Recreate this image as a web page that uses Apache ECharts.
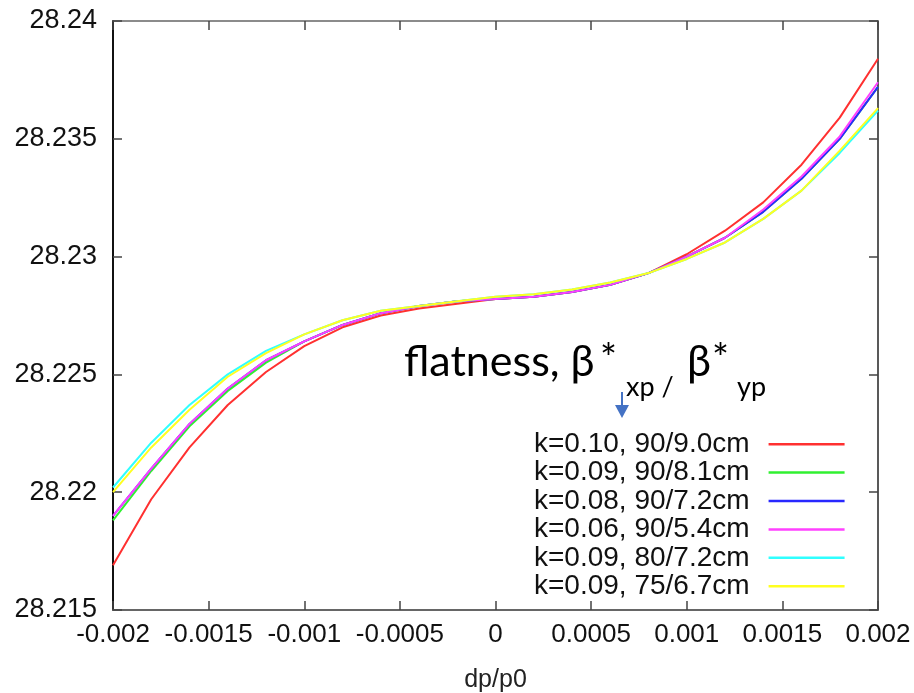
<!DOCTYPE html>
<html>
<head>
<meta charset="utf-8">
<script src="https://cdn.jsdelivr.net/npm/echarts@6/dist/echarts.min.js"></script>
<style>html,body{margin:0;padding:0;background:#fff}#c{width:914px;height:693px}</style>
</head>
<body>
<div id="c"></div>
<script>
const xValues = [-0.002,-0.0018,-0.0016,-0.0014,-0.0012,-0.001,-0.0008,-0.0006,-0.0004,-0.0002,0,0.0002,0.0004,0.0006,0.0008,0.001,0.0012,0.0014,0.0016,0.0018,0.002];
const seriesNames = ['k=0.10, 90/9.0cm','k=0.09, 90/8.1cm','k=0.08, 90/7.2cm','k=0.06, 90/5.4cm','k=0.09, 80/7.2cm','k=0.09, 75/6.7cm'];
const red = [28.2169,28.2197,28.2219,28.2237,28.2251,28.2262,28.2270,28.2275,28.2278,28.2280,28.2282,28.2283,28.2285,28.2288,28.2293,28.2301,28.2311,28.2323,28.2339,28.2359,28.2384];
const green = [28.2188,28.2209,28.2228,28.2243,28.2255,28.2264,28.2271,28.2276,28.2279,28.2281,28.2282,28.2283,28.2285,28.2288,28.2293,28.2300,28.2308,28.2319,28.2333,28.2350,28.2372];
const blue = [28.2190,28.2210,28.2229,28.2244,28.2256,28.2264,28.2271,28.2276,28.2279,28.2281,28.2282,28.2283,28.2285,28.2288,28.2293,28.2300,28.2308,28.2319,28.2333,28.2350,28.2372];
const magenta = [28.2190,28.2210,28.2229,28.2244,28.2256,28.2264,28.2271,28.2276,28.2279,28.2281,28.2282,28.2283,28.2285,28.2288,28.2293,28.2300,28.2308,28.2320,28.2334,28.2351,28.2374];
const cyan = [28.2202,28.2221,28.2237,28.2250,28.2260,28.2267,28.2273,28.2277,28.2279,28.2281,28.2283,28.2284,28.2286,28.2289,28.2293,28.2299,28.2306,28.2316,28.2328,28.2344,28.2362];
const yellow = [28.2200,28.2219,28.2235,28.2249,28.2259,28.2267,28.2273,28.2277,28.2279,28.2281,28.2283,28.2284,28.2286,28.2289,28.2293,28.2299,28.2306,28.2316,28.2328,28.2345,28.2363];
const seriesValues = [red, green, blue, magenta, cyan, yellow];
const colors = ['#ff3030','#30f030','#2828ff','#ff40ff','#30ffff','#ffff20'];

const chart = echarts.init(document.getElementById('c'), null, {renderer:'canvas'});
const font = '"Liberation Sans", Arial, sans-serif';
const annFont = 'Lato, "Open Sans", sans-serif';
const arrowColor = '#4472C4';

const option = {
  animation: false,
  grid: {left: 113, right: 36, top: 21, bottom: 83, outerBoundsMode: 'none', containLabel: false},
  xAxis: [{
    type: 'value', min: -0.002, max: 0.002, interval: 0.0005,
    name: 'dp/p0', nameLocation: 'middle', nameGap: 58,
    nameTextStyle: {fontFamily: font, fontSize: 25, color: '#222'},
    axisLine: {show: true, onZero: false, lineStyle: {color: '#666', width: 2}},
    axisTick: {show: true, inside: true, length: 9, lineStyle: {color: '#444', width: 1.5}},
    axisLabel: {fontFamily: font, fontSize: 26, color: '#111', margin: 12},
    splitLine: {show: false}
  },{
    type: 'value', position: 'top', min: -0.002, max: 0.002, interval: 0.0005,
    axisLine: {show: true, onZero: false, lineStyle: {color: '#666', width: 1.5}},
    axisTick: {show: true, inside: true, length: 9, lineStyle: {color: '#444', width: 1.5}},
    axisLabel: {show: false}, splitLine: {show: false}
  }],
  yAxis: [{
    type: 'value', position: 'left', min: 28.215, max: 28.24, interval: 0.005,
    axisLine: {show: true, onZero: false, lineStyle: {color: '#111', width: 2}},
    axisTick: {show: true, inside: true, length: 9, lineStyle: {color: '#444', width: 1.5}},
    axisLabel: {fontFamily: font, fontSize: 27, color: '#111', margin: 16},
    splitLine: {show: false}
  },{
    type: 'value', position: 'right', min: 28.215, max: 28.24, interval: 0.005,
    axisLine: {show: true, onZero: false, lineStyle: {color: '#222', width: 1.5}},
    axisTick: {show: true, inside: true, length: 9, lineStyle: {color: '#444', width: 1.5}},
    axisLabel: {show: false}, splitLine: {show: false}
  }],
  legend: {
    orient: 'vertical', left: 529, top: 425, align: 'right',
    icon: 'rect', itemWidth: 76, itemHeight: 2.5, itemGap: 0,
    textStyle: {fontFamily: font, fontSize: 28, color: '#111', lineHeight: 28.4, padding: [0, 14, 0, 0]},
    data: seriesNames
  },
  series: seriesNames.map((n, i) => ({
    name: n, type: 'line', xAxisIndex: 0, yAxisIndex: 0,
    data: xValues.map((x, j) => [x, seriesValues[i][j]]),
    showSymbol: false, symbol: 'none',
    lineStyle: {color: colors[i], width: 2},
    itemStyle: {color: colors[i]}
  })),
  graphic: [
    {type: 'text', left: 404, top: 341, style: {text: 'flatness, β', font: '43px ' + annFont, fill: '#000'}},
    {type: 'text', left: 600, top: 340, style: {text: '*', font: '40px ' + annFont, fill: '#000'}},
    {type: 'text', left: 626, top: 374, style: {text: 'xp /', font: '27px ' + annFont, fill: '#000'}},
    {type: 'text', left: 687, top: 341, style: {text: 'β', font: '43px ' + annFont, fill: '#000'}},
    {type: 'text', left: 712, top: 340, style: {text: '*', font: '40px ' + annFont, fill: '#000'}},
    {type: 'text', left: 737, top: 374, style: {text: 'yp', font: '27px ' + annFont, fill: '#000'}},
    {type: 'line', shape: {x1: 622, y1: 392, x2: 622, y2: 408}, style: {stroke: arrowColor, lineWidth: 2}},
    {type: 'polygon', shape: {points: [[615, 405], [629, 405], [622, 418]]}, style: {fill: arrowColor}}
  ]
};
chart.setOption(option);
</script>
</body>
</html>
